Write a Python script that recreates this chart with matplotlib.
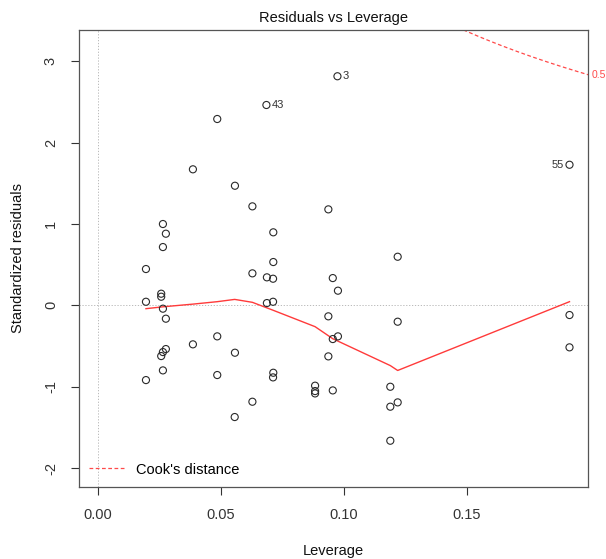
import numpy as np
import matplotlib
matplotlib.use("Agg")
import matplotlib.pyplot as plt

plt.rcParams['font.family'] = ['Liberation Sans', 'DejaVu Sans']

# Leverage (hat values) and standardized residuals of the fitted model
leverage = [
    0.0196, 0.0196, 0.0196,
    0.0265, 0.0277, 0.0265, 0.0258, 0.0258, 0.0265, 0.0277, 0.0277, 0.0265, 0.0258, 0.0265,
    0.0387, 0.0387,
    0.0486, 0.0486, 0.0486,
    0.0558, 0.0558, 0.0557,
    0.0629, 0.0629, 0.0629,
    0.0686, 0.0688, 0.0688,
    0.0714, 0.0714, 0.0713, 0.0713, 0.0714, 0.0713,
    0.0884, 0.0884, 0.0884,
    0.0938, 0.0938, 0.0938,
    0.0956, 0.0956, 0.0956,
    0.0977, 0.0977, 0.0975,
    0.1190, 0.1190, 0.1190,
    0.1220, 0.1220, 0.1220,
    0.1919, 0.1919, 0.1919,
]
std_resid = [
    0.446, 0.044, -0.918,
    0.999, 0.880, 0.716, 0.143, 0.106, -0.041, -0.164, -0.537, -0.574, -0.623, -0.799,
    1.671, -0.479,
    2.289, -0.381, -0.856,
    1.469, -0.582, -1.372,
    1.216, 0.393, -1.184,
    2.461, 0.344, 0.028,
    0.897, 0.532, 0.327, 0.044, -0.828, -0.885,
    -0.987, -1.053, -1.082,
    1.179, -0.135, -0.627,
    0.335, -0.414, -1.045,
    0.180, -0.381, 2.814,
    -1.000, -1.245, -1.663,
    0.597, -0.201, -1.192,
    1.727, -0.119, -0.516,
]
# Observation numbers flagged as most extreme
id_labels = ["43", "3", "55"]
id_index = [25, 45, 52]
id_side = ["right", "right", "left"]

# Smoothed trend of residuals against leverage
smooth_x = [0.0196, 0.0265, 0.0387, 0.0486, 0.0557, 0.0629, 0.0713, 0.0884, 0.0956, 0.1190, 0.1220, 0.1919]
smooth_y = [-0.041, -0.018, 0.015, 0.045, 0.073, 0.037, -0.060, -0.262, -0.410, -0.740, -0.800, 0.045]

# Cook's distance contour settings
n_params = 4
cook_levels = [0.5]

xlim = (-0.00773, 0.1995)
ylim = (-2.228, 3.382)
xticks = [0.00, 0.05, 0.10, 0.15]
yticks = [-2, -1, 0, 1, 2, 3]

fig = plt.figure(figsize=(6.06, 5.59), dpi=100)
ax = fig.add_axes([0.130, 0.1293, 0.8406, 0.8170])

ax.axhline(0, color="#b0b0b0", lw=0.6, ls=(0, (1.5, 2)), zorder=1)
ax.axvline(0, color="#b0b0b0", lw=0.6, ls=(0, (1.5, 2)), zorder=1)

ax.scatter(leverage, std_resid, s=26, facecolors="none", edgecolors="#2a2a2a",
           linewidths=0.8, zorder=3)

ax.plot(smooth_x, smooth_y, color="#ff3a3a", lw=1.0, zorder=2)

red = "#ff4a4a"
hh = np.linspace(0.001, xlim[1], 200)
for lev in cook_levels:
    cy = np.sqrt(lev * n_params * (1 - hh) / hh)
    ax.plot(hh, cy, color=red, lw=0.9, ls=(0, (3, 2)), zorder=2)
    ax.plot(hh, -cy, color=red, lw=0.9, ls=(0, (3, 2)), zorder=2)
    yr = np.sqrt(lev * n_params * (1 - xlim[1]) / xlim[1])
    ax.text(1.006, (yr - ylim[0]) / (ylim[1] - ylim[0]), str(lev),
            transform=ax.transAxes, color=red, fontsize=7.5, va="center", ha="left")

for lab, i, side in zip(id_labels, id_index, id_side):
    off = 4 if side == "right" else -4
    ax.annotate(lab, (leverage[i], std_resid[i]), xytext=(off, 0),
                textcoords="offset points", ha="left" if side == "right" else "right",
                va="center", fontsize=8, color="#333333")

ax.plot([], [], color=red, lw=0.9, ls=(0, (3, 2)), label="Cook's distance")
ax.legend(loc="lower left", frameon=False, fontsize=10.5, handlelength=2.4,
          borderaxespad=0.3, bbox_to_anchor=(0.0, 0.0))

ax.set_xlim(*xlim)
ax.set_ylim(*ylim)
ax.set_xticks(xticks)
ax.set_xticklabels([f"{t:.2f}" for t in xticks])
ax.set_yticks(yticks)
ax.set_yticklabels([str(t) for t in yticks], rotation=90, va="center")
ax.tick_params(direction="out", length=6, width=0.8, colors="#333333",
               labelsize=10.5, pad=9)
for s in ax.spines.values():
    s.set_color("#555555")
    s.set_linewidth(0.9)

ax.set_title("Residuals vs Leverage", fontsize=10.5, pad=6, color="#111111")
ax.set_xlabel("Leverage", fontsize=10.5, labelpad=16, color="#111111")
ax.set_ylabel("Standardized residuals", fontsize=10.5, labelpad=14, color="#111111")

fig.savefig("out.png", dpi=100)
